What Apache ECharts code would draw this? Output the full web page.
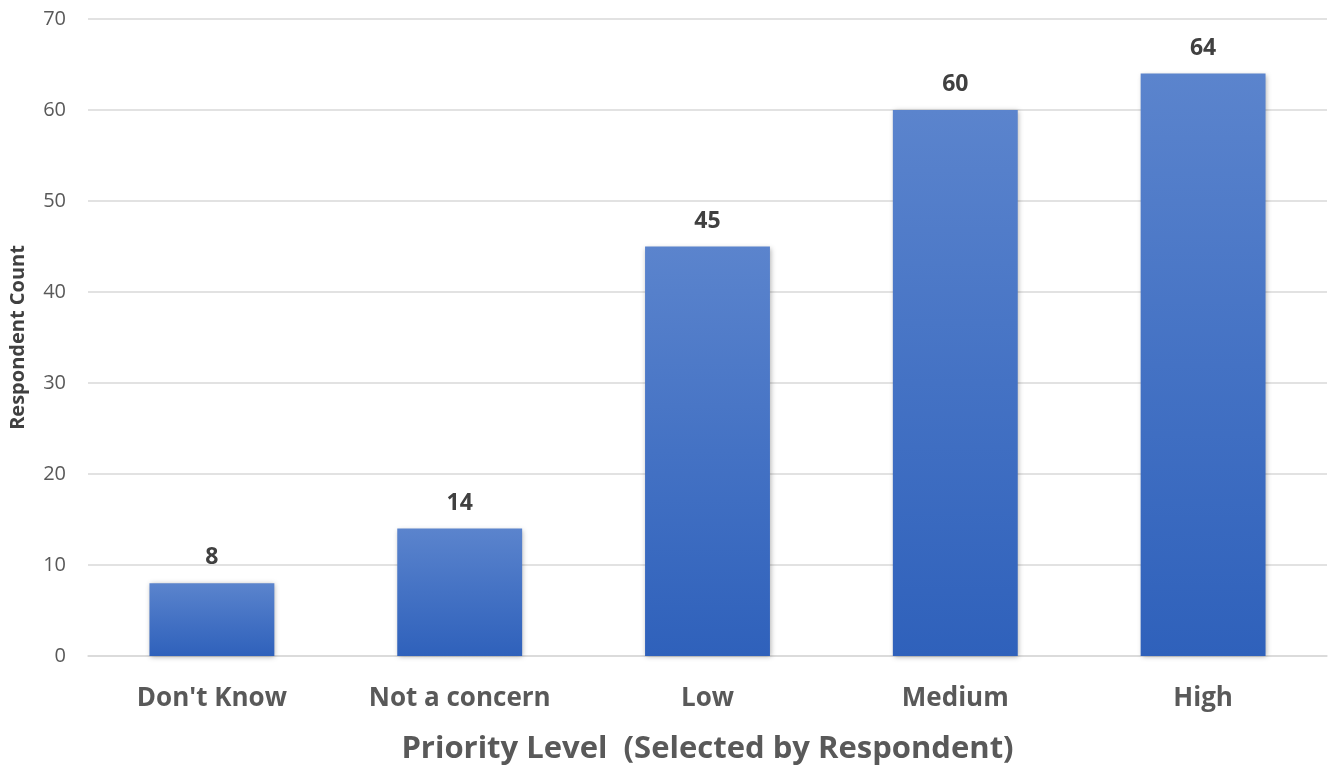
<!DOCTYPE html>
<html><head><meta charset="utf-8">
<script src="https://cdn.jsdelivr.net/npm/echarts@6/dist/echarts.min.js"></script>
<style>html,body{margin:0;padding:0;background:#fff;overflow:hidden}#c{width:1332px;height:765px}</style>
</head><body><div id="c"></div>
<script>
const categories = ["Don't Know", "Not a concern", "Low", "Medium", "High"];
const counts = [8, 14, 45, 60, 64];
const yTicks = { min: 0, max: 70, interval: 10 };

const chart = echarts.init(document.getElementById('c'));
const font = '"Open Sans", "Noto Sans", sans-serif';
chart.setOption({
  animation: false,
  backgroundColor: '#fff',
  grid: { left: 88, right: 5, top: 19, bottom: 109, containLabel: false, outerBoundsMode: 'none' },
  xAxis: {
    type: 'category', data: categories,
    name: 'Priority Level  (Selected by Respondent)', nameLocation: 'middle', nameGap: 78,
    nameTextStyle: { fontFamily: font, fontSize: 31, fontWeight: 'bold', color: '#595959' },
    axisLine: { lineStyle: { color: '#d9d9d9', width: 1.5 } },
    axisTick: { show: false },
    axisLabel: { fontFamily: font, fontSize: 26, fontWeight: 'bold', color: '#595959', margin: 30 }
  },
  yAxis: {
    type: 'value', min: yTicks.min, max: yTicks.max, interval: yTicks.interval,
    name: 'Respondent Count', nameLocation: 'middle', nameGap: 60,
    nameTextStyle: { fontFamily: font, fontSize: 20, fontWeight: 'bold', color: '#404040' },
    axisLine: { show: false }, axisTick: { show: false },
    splitLine: { lineStyle: { color: '#d9d9d9', width: 1.5 } },
    axisLabel: { fontFamily: font, fontSize: 20, color: '#595959', margin: 22 }
  },
  series: [{
    type: 'bar', data: counts, barWidth: '50.4%',
    itemStyle: {
      color: new echarts.graphic.LinearGradient(0, 0, 0, 1, [
        { offset: 0, color: '#5b84cd' }, { offset: 0.5, color: '#4472c4' }, { offset: 1, color: '#2f61bb' }
      ]),
      shadowBlur: 5, shadowColor: 'rgba(0,0,0,0.3)', shadowOffsetX: 1, shadowOffsetY: 1
    },
    label: { show: true, position: 'top', distance: 14, fontFamily: font, fontSize: 23, fontWeight: 'bold', color: '#404040' }
  }]
});
</script></body></html>
